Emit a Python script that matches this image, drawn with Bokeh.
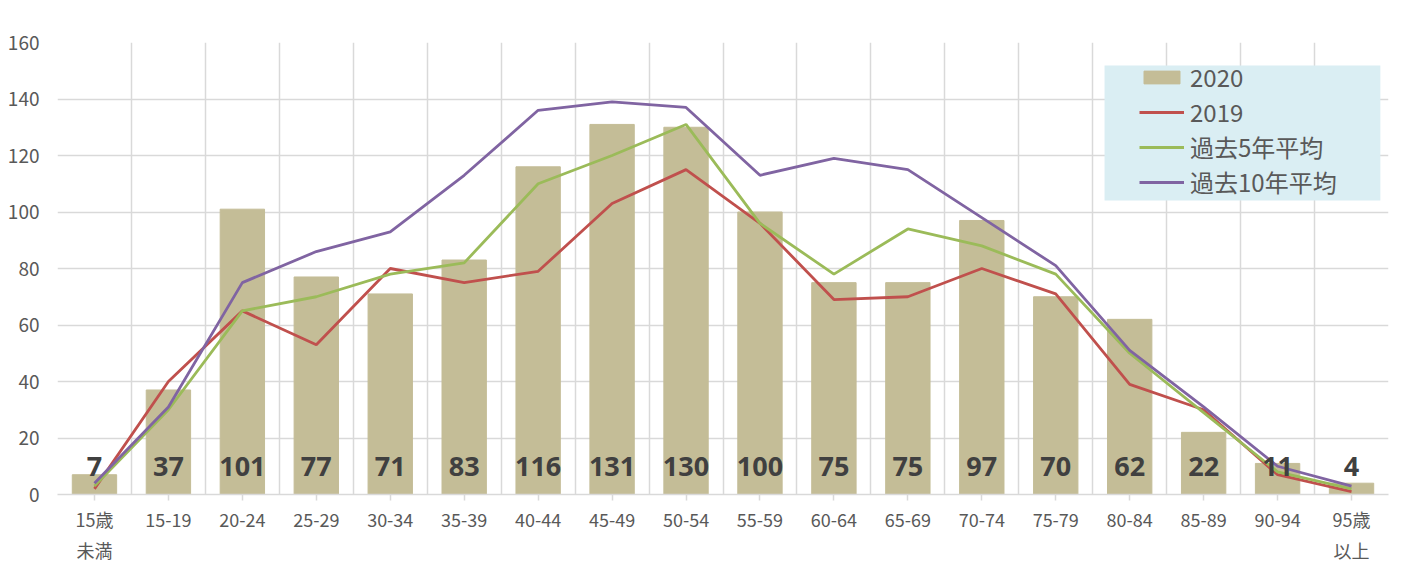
from bokeh.plotting import figure
from bokeh.models import FixedTicker, ColumnDataSource, Legend, LegendItem, BoxAnnotation
from bokeh.core.properties import value
from bokeh.embed import file_html
from bokeh.resources import INLINE

categories = ["15歳\n未満", "15-19", "20-24", "25-29", "30-34", "35-39", "40-44", "45-49",
              "50-54", "55-59", "60-64", "65-69", "70-74", "75-79", "80-84", "85-89",
              "90-94", "95歳\n以上"]
y2020 = [7, 37, 101, 77, 71, 83, 116, 131, 130, 100, 75, 75, 97, 70, 62, 22, 11, 4]
y2019 = [2, 40, 65, 53, 80, 75, 79, 103, 115, 96, 69, 70, 80, 71, 39, 30, 7, 1]
avg5 = [3, 30, 65, 70, 78, 82, 110, 120, 131, 96, 78, 94, 88, 78, 50, 29, 8, 2]
avg10 = [4, 31, 75, 86, 93, 113, 136, 139, 137, 113, 119, 115, 98, 81, 51, 31, 10, 3]
y_ticks = [0, 20, 40, 60, 80, 100, 120, 140, 160]

xs = list(range(len(categories)))
src = ColumnDataSource(dict(x=xs, y2020=y2020, y2019=y2019, avg5=avg5, avg10=avg10,
                            lab=[str(v) for v in y2020], ly=[10] * len(xs)))

FONT = "Noto Sans CJK JP"
p = figure(width=1396, height=567, output_backend="svg", toolbar_location=None,
           x_range=(-0.5, len(xs) - 0.5), y_range=(0, 160),
           min_border_left=57, min_border_right=8, min_border_top=42, min_border_bottom=73)
p.outline_line_color = None
p.background_fill_color = "white"

p.xaxis.ticker = FixedTicker(ticks=xs)
p.xaxis.major_label_overrides = {i: c for i, c in enumerate(categories)}
p.xgrid.ticker = FixedTicker(ticks=[i - 0.5 for i in range(len(xs) + 1)])
p.yaxis.ticker = FixedTicker(ticks=y_ticks)
p.xgrid.grid_line_color = "#d9d9d9"
p.ygrid.grid_line_color = "#d9d9d9"
p.xgrid.grid_line_width = 1.5
p.ygrid.grid_line_width = 1.5

for ax in (p.xaxis, p.yaxis):
    ax.major_label_text_font = FONT
    ax.major_label_text_color = "#595959"
    ax.minor_tick_line_color = None
p.xaxis.major_label_text_font_size = "18px"
p.yaxis.major_label_text_font_size = "19px"
p.xaxis.axis_line_color = "#d9d9d9"
p.xaxis.axis_line_width = 1.5
p.xaxis.major_tick_line_color = "#d9d9d9"
p.xaxis.major_tick_line_width = 1.5
p.xaxis.major_tick_in = 0
p.xaxis.major_tick_out = 6
p.xaxis.major_label_standoff = 5
p.yaxis.axis_line_color = None
p.yaxis.major_tick_line_color = None
p.yaxis.major_tick_in = 0
p.yaxis.major_tick_out = 0
p.yaxis.major_label_standoff = 18

# legend background panel (data coordinates)
p.add_layout(BoxAnnotation(left=13.66, right=17.39, bottom=104.1, top=151.9,
                           fill_color="#DAEEF3", fill_alpha=1.0, line_color=None,
                           level="underlay"))

bars = p.vbar(x="x", top="y2020", width=0.6, source=src, color="#C4BD97")
l19 = p.line(x="x", y="y2019", source=src, line_color="#C0504D", line_width=2.8)
l5 = p.line(x="x", y="avg5", source=src, line_color="#9BBB59", line_width=2.8)
l10 = p.line(x="x", y="avg10", source=src, line_color="#8064A2", line_width=2.8)

p.text(x="x", y="ly", text="lab", source=src, text_align="center", text_baseline="middle",
       text_font=value("Open Sans"), text_font_style="bold", text_font_size="27px",
       text_color="#404040")

legend = Legend(items=[LegendItem(label="2020", renderers=[bars]),
                       LegendItem(label="2019", renderers=[l19]),
                       LegendItem(label="過去5年平均", renderers=[l5]),
                       LegendItem(label="過去10年平均", renderers=[l10])],
                location=(1082, 295))
legend.background_fill_alpha = 0.0
legend.border_line_color = None
legend.label_text_font = FONT
legend.label_text_font_size = "24px"
legend.label_text_color = "#595959"
legend.glyph_width = 45
legend.glyph_height = 16
legend.label_height = 26
legend.label_standoff = 6
legend.spacing = 0
legend.padding = 0
legend.margin = 0
p.add_layout(legend, "center")

open("out.html", "w").write(file_html(p, INLINE))
